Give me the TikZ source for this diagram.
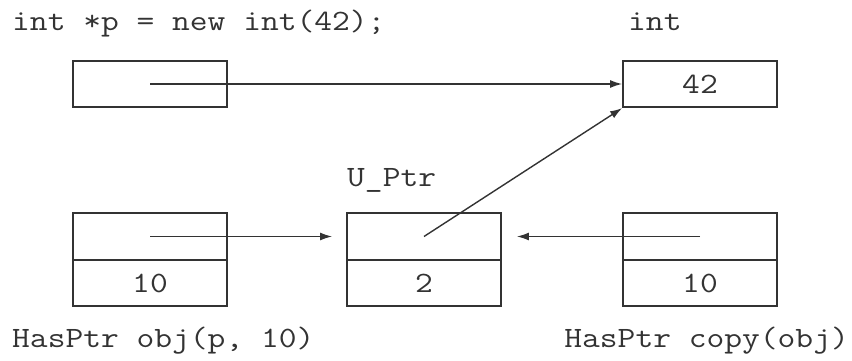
\documentclass[tikz,border=0pt]{standalone}
\usepackage{fontspec}
\usetikzlibrary{arrows.meta}
\definecolor{ink}{HTML}{333333}
\newcommand{\cw}[1]{\scalebox{1.17}[1]{\ttfamily\fontsize{29.5}{34}\selectfont #1}}
\begin{document}
\begin{tikzpicture}[x=1pt,y=-1pt,
  cell/.style={draw=ink,line width=1.8pt,minimum width=154pt,minimum height=46.5pt,inner sep=0pt,text=ink},
  lbl/.style={inner sep=0pt,text=ink},
  ptr/.style={draw=ink,line width=1.4pt,-{Latex[length=12pt,width=8pt]}}]
\useasboundingbox (0,0) rectangle (852,361);
% labels
\node[lbl,anchor=base west] (title) at (12,31) {\cw{int *p = new int(42);}};
\node[lbl,anchor=base west] (intlbl) at (628,31) {\cw{int}};
\node[lbl,anchor=base west] (ulbl) at (347,186) {\cw{U\_Ptr}};
\node[lbl,anchor=base west] (objlbl) at (12,347) {\cw{HasPtr obj(p, 10)}};
\node[lbl,anchor=base east] (copylbl) at (849,347) {\cw{HasPtr copy(obj)}};
% boxes
\node[cell] (p) at (150,84) {};
\node[cell] (int) at (700,84) {\cw{42}};
\node[cell] (objtop) at (150,236.5) {};
\node[cell] (objbot) at (150,283) {\cw{10}};
\node[cell] (utop) at (424,236.5) {};
\node[cell] (ubot) at (424,283) {\cw{2}};
\node[cell] (ctop) at (700,236.5) {};
\node[cell] (cbot) at (700,283) {\cw{10}};
% pointers
\draw[ptr] (p.center) -- (int.west);
\draw[ptr,shorten >=14pt] (objtop.center) -- (utop.west);
\draw[ptr,shorten >=15pt] (ctop.center) -- (utop.east);
\draw[ptr] (utop.center) -- (int.south west);
\end{tikzpicture}
\end{document}
